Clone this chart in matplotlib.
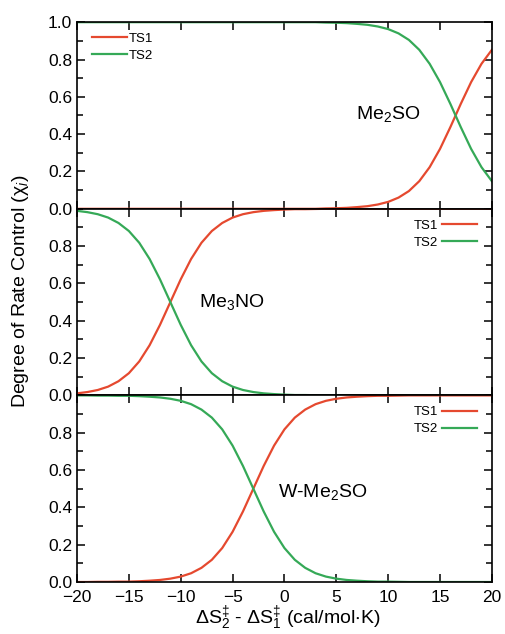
import matplotlib
matplotlib.use('Agg')
import matplotlib.pyplot as plt
from matplotlib.ticker import MultipleLocator

plt.rcParams['font.family'] = ['Liberation Sans', 'DejaVu Sans']
plt.rcParams['mathtext.fontset'] = 'custom'
plt.rcParams['mathtext.rm'] = 'Liberation Sans'
plt.rcParams['mathtext.it'] = 'Liberation Sans:italic'
plt.rcParams['mathtext.default'] = 'regular'

# x grid, dS2 - dS1 (cal/mol K)
x = list(range(-20, 21))

# Me2SO panel
me2so_ts1 = [0, 0, 0, 0, 0, 0, 0, 0, 0, 0, 0, 0, 0, 0, 0, 0, 0, 0, 0, 0,
             0, 0, 0, 0, 0.002, 0.003, 0.005, 0.009, 0.014, 0.023, 0.037,
             0.060, 0.095, 0.148, 0.223, 0.321, 0.438, 0.562, 0.679, 0.777, 0.852]
me2so_ts2 = [1, 1, 1, 1, 1, 1, 1, 1, 1, 1, 1, 1, 1, 1, 1, 1, 1, 1, 1, 1,
             1, 1, 1, 1, 0.998, 0.997, 0.995, 0.991, 0.986, 0.977, 0.963,
             0.940, 0.905, 0.852, 0.777, 0.679, 0.562, 0.438, 0.321, 0.223, 0.148]

# Me3NO panel
me3no_ts1 = [0.011, 0.018, 0.029, 0.047, 0.076, 0.119, 0.182, 0.269, 0.378, 0.500,
             0.622, 0.731, 0.818, 0.881, 0.924, 0.953, 0.971, 0.982, 0.989, 0.993,
             0.996, 0.998, 0.998, 0.999, 1, 1, 1, 1, 1, 1, 1,
             1, 1, 1, 1, 1, 1, 1, 1, 1, 1]
me3no_ts2 = [0.989, 0.982, 0.971, 0.953, 0.924, 0.881, 0.818, 0.731, 0.622, 0.500,
             0.378, 0.269, 0.182, 0.119, 0.076, 0.047, 0.029, 0.018, 0.011, 0.007,
             0.004, 0.002, 0.002, 0.001, 0, 0, 0, 0, 0, 0, 0,
             0, 0, 0, 0, 0, 0, 0, 0, 0, 0]

# W-Me2SO panel
wme2so_ts1 = [0, 0, 0.001, 0.001, 0.002, 0.002, 0.004, 0.007, 0.011, 0.018,
              0.029, 0.047, 0.076, 0.119, 0.182, 0.269, 0.378, 0.500, 0.622, 0.731,
              0.818, 0.881, 0.924, 0.953, 0.971, 0.982, 0.989, 0.993, 0.996, 0.998,
              0.998, 0.999, 1, 1, 1, 1, 1, 1, 1, 1, 1]
wme2so_ts2 = [1, 1, 0.999, 0.999, 0.998, 0.998, 0.996, 0.993, 0.989, 0.982,
              0.971, 0.953, 0.924, 0.881, 0.818, 0.731, 0.622, 0.500, 0.378, 0.269,
              0.182, 0.119, 0.076, 0.047, 0.029, 0.018, 0.011, 0.007, 0.004, 0.002,
              0.002, 0.001, 0, 0, 0, 0, 0, 0, 0, 0, 0]

panels = [
    ('Me$_2$SO', me2so_ts1, me2so_ts2, 10.0, 0.51),
    ('Me$_3$NO', me3no_ts1, me3no_ts2, -5.1, 0.50),
    ('W-Me$_2$SO', wme2so_ts1, wme2so_ts2, 3.7, 0.48),
]

red = '#e5492f'
green = '#35a957'

fig, axes = plt.subplots(3, 1, sharex=True, figsize=(5.05, 6.34), dpi=100)
fig.subplots_adjust(left=0.1525, right=0.974, bottom=0.082, top=0.965, hspace=0)

for i, (ax, (name, ts1, ts2, tx, ty)) in enumerate(zip(axes, panels)):
    ax.plot(x, ts1, color=red, lw=1.6, label='TS1')
    ax.plot(x, ts2, color=green, lw=1.6, label='TS2')
    ax.set_xlim(-20, 20)
    ax.set_ylim(0, 1.0)
    ax.xaxis.set_major_locator(MultipleLocator(5))
    if i == 0:
        ax.set_yticks([0, 0.2, 0.4, 0.6, 0.8, 1.0])
    else:
        ax.set_yticks([0, 0.2, 0.4, 0.6, 0.8])
    ax.yaxis.set_minor_locator(MultipleLocator(0.1))
    ax.yaxis.set_major_formatter(plt.FormatStrFormatter('%.1f'))
    ax.tick_params(which='both', direction='in', top=True, right=True,
                   labelsize=12.5, width=1.1)
    ax.tick_params(axis='x', pad=5.5)
    ax.tick_params(which='major', length=6)
    ax.tick_params(which='minor', length=4)
    for sp in ax.spines.values():
        sp.set_linewidth(1.2)
    ax.text(tx, ty, name, fontsize=14, va='center', ha='center')
    if i == 0:
        ax.legend(loc='upper left', bbox_to_anchor=(0.036, 0.945),
                  frameon=False, fontsize=9.5, handlelength=2.65,
                  handletextpad=0.15, labelspacing=0.35,
                  borderaxespad=0, borderpad=0)
    else:
        ax.legend(loc='upper right', bbox_to_anchor=(0.964, 0.942),
                  frameon=False, fontsize=9.5, handlelength=2.65,
                  handletextpad=0.3, labelspacing=0.35, markerfirst=False,
                  borderaxespad=0, borderpad=0)

fig.text(0.569, 0.025, r'$\Delta S_2^{\ddagger}$ - $\Delta S_1^{\ddagger}$ (cal/mol$\cdot$K)',
         fontsize=14, ha='center', va='center')
fig.text(0.04, 0.54, r'Degree of Rate Control (χ$_{\mathit{i}}$)',
         fontsize=14, rotation=90, ha='center', va='center')

fig.savefig('out.png', dpi=100)
